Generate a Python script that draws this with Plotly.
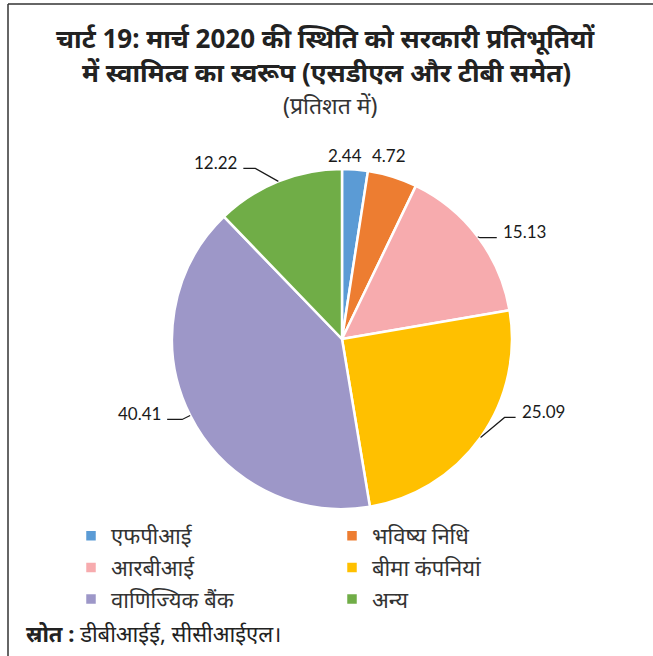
import math
import plotly.graph_objects as go

# Ownership of government securities, March 2020 (per cent)
categories = ["एफपीआई", "भविष्य निधि", "आरबीआई", "बीमा कंपनियां", "वाणिज्यिक बैंक", "अन्य"]
shares = [2.44, 4.72, 15.13, 25.09, 40.41, 12.22]
value_labels = ["2.44", "4.72", "15.13", "25.09", "40.41", "12.22"]

colors = ["#5B9BD5", "#ED7D31", "#F7ABAE", "#FFC000", "#9D97C8", "#70AD47"]

W, H = 653, 656
CX, CY, R = 342, 339, 170  # pie centre and radius in pixels

# leader style per slice: (elbow dx, elbow dy, tail length); None = label without leader
leader_style = [None, None, (2, 1, 17), (24, -20, 11), (-8, 4, 15), (-23, -13, 12)]
free_offset = [(-10, -14), (-3, -21), None, None, None, None]


def px(x):
    return x / W


def py(y):
    return 1 - y / H


fig = go.Figure(
    go.Pie(
        labels=categories,
        values=shares,
        sort=False,
        direction="clockwise",
        rotation=0,
        marker=dict(colors=colors, line=dict(color="white", width=2.5)),
        textinfo="none",
        hoverinfo="label+value",
        domain=dict(x=[px(CX - R), px(CX + R)], y=[py(CY + R), py(CY - R)]),
    )
)

annotations = []
shapes = []

label_font = dict(family="Lato, Open Sans, sans-serif", size=17, color="#1a1a1a")

total = sum(shares)
cum = 0.0
for i, v in enumerate(shares):
    mid = (cum + v / 2) / total * 2 * math.pi
    cum += v
    ex = CX + R * math.sin(mid)
    ey = CY - R * math.cos(mid)
    style = leader_style[i]
    if style is None:
        dx, dy = free_offset[i]
        annotations.append(dict(
            x=px(ex + dx), y=py(ey + dy), xref="paper", yref="paper",
            text=value_labels[i], showarrow=False, font=label_font,
            xanchor="center", yanchor="middle",
        ))
        continue
    edx, edy, tail = style
    kx, ky = ex + edx, ey + edy
    side = 1 if math.sin(mid) >= 0 else -1
    tx = kx + side * tail
    shapes.append(dict(
        type="path", xref="paper", yref="paper",
        path=f"M {px(ex)} {py(ey)} L {px(kx)} {py(ky)} L {px(tx)} {py(ky)}",
        line=dict(color="#1a1a1a", width=1.2),
    ))
    annotations.append(dict(
        x=px(tx + side * 4), y=py(ky - 6), xref="paper", yref="paper",
        text=value_labels[i], showarrow=False, font=label_font,
        xanchor="left" if side > 0 else "right", yanchor="middle",
    ))

title_font = "Noto Sans, Liberation Sans, sans-serif"
annotations += [
    dict(x=px(326), y=py(38), xref="paper", yref="paper", showarrow=False,
         text="<b>चार्ट 19: मार्च 2020 की स्थिति को सरकारी प्रतिभूतियों</b>",
         font=dict(family=title_font, size=26, color="#222222"),
         xanchor="center", yanchor="middle"),
    dict(x=px(326), y=py(72), xref="paper", yref="paper", showarrow=False,
         text="<b>में स्वामित्व का स्वरूप (एसडीएल और टीबी समेत)</b>",
         font=dict(family=title_font, size=26, color="#222222"),
         xanchor="center", yanchor="middle"),
    dict(x=px(330), y=py(105), xref="paper", yref="paper", showarrow=False,
         text="(प्रतिशत में)",
         font=dict(family=title_font, size=23, color="#333333"),
         xanchor="center", yanchor="middle"),
    dict(x=px(24), y=py(633), xref="paper", yref="paper", showarrow=False,
         text="<b>स्रोत :</b> डीबीआईई, सीसीआईएल।",
         font=dict(family=title_font, size=22, color="#222222"),
         xanchor="left", yanchor="middle"),
]

# frame: top and left rules
shapes += [
    dict(type="line", xref="paper", yref="paper", x0=px(8), x1=1.01, y0=py(4), y1=py(4),
         line=dict(color="#333333", width=1.5)),
    dict(type="line", xref="paper", yref="paper", x0=px(8), x1=px(8), y0=py(4), y1=-0.01,
         line=dict(color="#333333", width=1.5)),
]

fig.update_layout(
    width=W, height=H,
    margin=dict(l=0, r=0, t=0, b=0, autoexpand=False),
    paper_bgcolor="white", plot_bgcolor="white",
    showlegend=True,
    legend=dict(
        orientation="h", x=px(71), y=py(515), xanchor="left", yanchor="top",
        entrywidth=216, entrywidthmode="pixels",
        font=dict(family=title_font, size=22, color="#333333"),
        itemclick=False, itemdoubleclick=False,
    ),
    annotations=annotations,
    shapes=shapes,
)

fig.write_html("out.html")
